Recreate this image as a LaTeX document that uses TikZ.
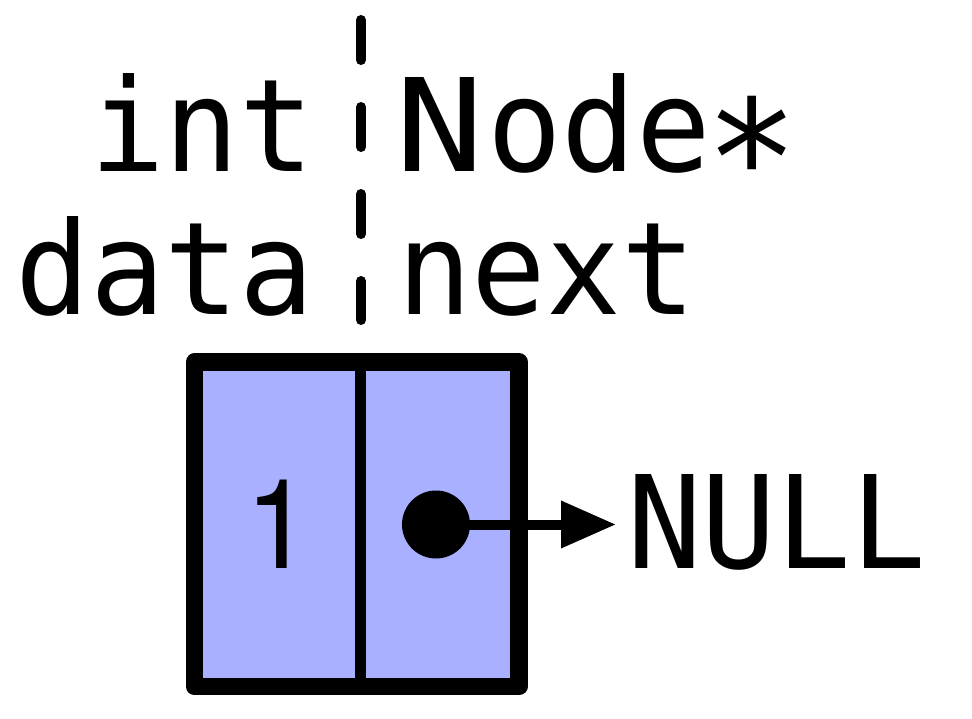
\documentclass[tikz,border=0pt]{standalone}
\usepackage{fontspec}
\usetikzlibrary{arrows.meta}
\newfontfamily\codefont{DejaVu Sans Mono}
\newfontfamily\helvfont{TeX Gyre Heros}
\definecolor{cellblue}{RGB}{168,176,255}
\newcommand{\stretchtext}[1]{\scalebox{1}[1.04]{#1}}
\newcommand{\bigast}{\kern-6pt\raisebox{-11pt}{\scalebox{1.25}{∗}}}
\newcommand{\wideN}{\scalebox{1.19}[1]{N}\kern3pt}
\begin{document}
\begin{tikzpicture}[x=1pt,y=-1pt,
  label text/.style={inner sep=0pt, font=\codefont\fontsize{124}{124}\selectfont},
  box line/.style={line width=17.5pt, line join=round},
  divider/.style={line width=11pt},
  sep line/.style={line width=10pt, line cap=round, dash pattern=on 40pt off 47pt},
  pointer/.style={line width=10pt, -{Triangle[length=55pt,width=45pt]}}]
\useasboundingbox (0,0) rectangle (972,719);
% labels
\node[label text, anchor=base east] (inttype) at (314.5,172) {\stretchtext{int}};
\node[label text, anchor=base east] (dataname) at (314.5,315) {\stretchtext{data}};
\node[label text, anchor=base west] (nodetype) at (395,172) {\stretchtext{\wideN ode\bigast}};
\node[label text, anchor=base west] (nextname) at (397,315) {\stretchtext{next}};
% dashed separator
\coordinate (septop) at (361,20);
\coordinate (sepbot) at (361,320);
\draw[sep line] (septop) -- (sepbot);
% node box
\draw[box line, fill=cellblue] (194.5,362) rectangle (519,686.5);
\coordinate (divtop) at (360.5,362);
\coordinate (divbot) at (360.5,686.5);
\draw[divider] (divtop) -- (divbot);
\node[inner sep=0pt, anchor=base west] (value) at (245.4,568) {\helvfont\fontsize{120}{120}\selectfont\stretchtext{1}};
% pointer
\fill (436,524.5) circle[radius=34pt];
\coordinate (dot) at (436,524.5);
\node[label text, anchor=base west] (null) at (627,568) {\stretchtext{NULL}};
\draw[pointer, shorten >=11pt] (dot) -- (dot -| null.west);
\end{tikzpicture}
\end{document}
